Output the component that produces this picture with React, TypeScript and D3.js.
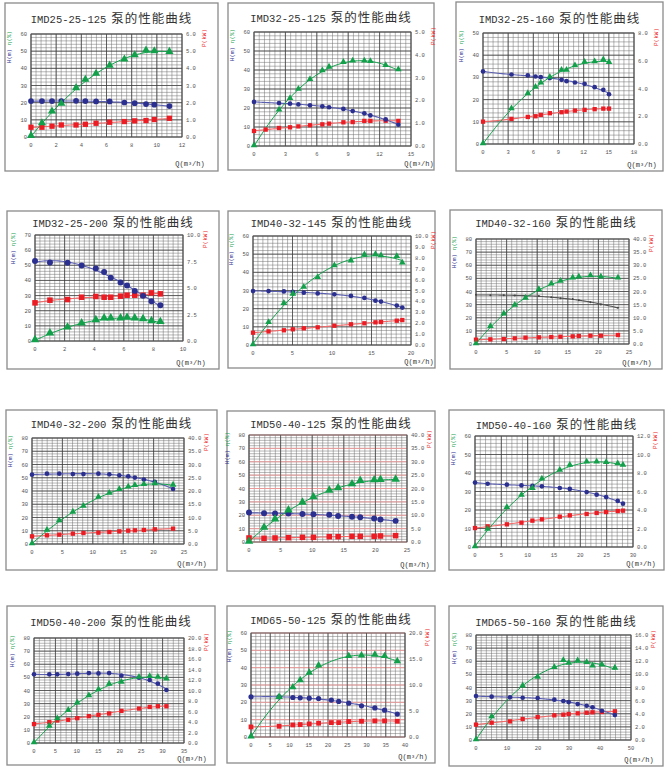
import React from "react";
import * as d3 from "d3";

// pump models shown in the grid
const titles = [
  "IMD25-25-125", "IMD32-25-125", "IMD32-25-160",
  "IMD32-25-200", "IMD40-32-145", "IMD40-32-160",
  "IMD40-32-200", "IMD50-40-125", "IMD50-40-160",
  "IMD50-40-200", "IMD65-50-125", "IMD65-50-160",
];

// Q (m³/h) of each measuring point
const flowQ: number[][] = [
  [0, 0.87, 1.67, 2.41, 3.58, 4.32, 5.17, 6.25, 7.42, 8.24, 9.14, 9.8, 11.0],
  [0, 1.11, 2.39, 3.44, 4.24, 5.35, 6.53, 7.17, 8.54, 9.43, 10.54, 11.12, 12.58, 13.79],
  [0, 3.39, 5.34, 6.26, 6.89, 7.97, 9.36, 9.96, 10.96, 12.11, 13.31, 14.34, 15.02],
  [0, 1.01, 2.2, 3.15, 4.11, 4.67, 5.12, 5.78, 6.22, 6.74, 7.3, 7.87, 8.47],
  [0, 1.97, 3.91, 5.04, 6.43, 8.19, 10.3, 12.4, 14.1, 15.5, 16.2, 18.2, 18.9],
  [0, 2.35, 4.54, 6.34, 8.09, 10.27, 12.3, 13.8, 15.8, 16.8, 18.7, 20.4, 23.2],
  [0, 2.46, 4.48, 6.72, 8.46, 10.92, 12.72, 14.36, 15.83, 16.92, 18.4, 20.2, 23.2],
  [0, 2.38, 4.12, 6.24, 8.46, 10.2, 12.7, 14.1, 16.3, 17.6, 19.8, 20.8, 23.2],
  [0, 2.4, 6.05, 8.82, 10.9, 12.7, 16.1, 18.0, 21.2, 23.1, 24.9, 27.1, 28.1],
  [0, 3.57, 5.43, 7.99, 10.09, 12.8, 15.05, 17.53, 20.4, 24.5, 27.0, 28.9, 30.9],
  [0, 7.3, 10.87, 12.78, 15.13, 17.56, 20.87, 22.78, 25.39, 28.7, 32.17, 34.7, 38.0],
  [0, 5.05, 10.97, 15.05, 19.89, 25.27, 28.17, 29.89, 32.8, 35.7, 37.6, 40.6, 44.8],
];

// H (m)
const headH: (number | null)[][] = [
  [20.9, 20.9, 20.9, 20.9, 21.1, 20.9, 20.7, 20.7, 20.1, 19.7, 19.2, 18.8, 18.0],
  [23.2, null, 22.6, 22.3, 21.9, 21.4, 20.9, 20.4, 19.5, 18.4, 17.2, 16.1, 14.0, 11.2],
  [32.7, 31.3, 30.9, 30.4, 30.1, 29.7, 28.9, 28.3, 27.7, 27.1, 25.6, 24.4, 22.4],
  [52.8, 51.9, 51.7, 49.9, 47.9, 45.5, 41.7, 38.6, 36.6, 33.1, 29.8, 26.3, 23.6],
  [29.7, 29.7, 29.5, 29.2, 28.8, 28.4, 27.9, 27.0, 25.9, 24.4, 23.9, 21.7, 20.6],
  [37.5, 37.2, 37.2, 37.0, 36.7, 36.5, 35.7, 34.9, 34.2, 33.4, 31.9, 30.1, 27.6],
  [52.3, 53.1, 53.1, 52.8, 52.8, 53.1, 52.6, 51.8, 51.1, 50.1, 48.6, 47.0, 41.5],
  [22.0, 21.5, 21.3, 21.3, 21.0, 20.8, 20.3, 19.5, 18.8, 18.5, 17.5, 16.8, 15.8],
  [34.8, 34.2, 33.7, 33.3, 33.0, 32.8, 31.9, 31.4, 29.7, 28.3, 27.0, 24.9, 23.4],
  [52.3, 52.3, 52.3, 52.5, 52.8, 53.3, 53.0, 53.3, 51.3, 49.7, 48.0, 45.2, 40.4],
  [23.2, 23.2, 22.8, 22.6, 22.4, 22.2, 21.3, 20.5, 19.5, 18.0, 16.8, 15.5, 13.2],
  [33.5, 33.0, 32.5, 32.2, 32.0, 30.7, 29.7, 28.9, 27.4, 26.1, 24.9, 22.3, 19.0],
];

// η (%)
const effEta: (number | null)[][] = [
  [0.4, 7.8, 14.7, 19.2, 28.3, 33.2, 36.7, 41.4, 45.0, 47.5, 50.2, 49.8, 49.4],
  [0, null, 18.8, 24.9, 29.8, 34.9, 39.5, 41.4, 43.9, 44.6, 44.6, 44.4, 42.3, 40.0],
  [0, 15.8, 22.6, 25.5, 27.4, 30.0, 33.1, 33.1, 35.2, 36.7, 37.0, 37.8, 36.6],
  [0.4, 4.9, 8.8, 11.5, 13.7, 14.8, 14.8, 14.8, 15.2, 14.8, 14.3, 13.0, 12.4],
  [0, 12.3, 22.8, 27.9, 31.7, 37.1, 43.5, 46.2, 49.5, 49.7, 49.0, 48.6, 45.0],
  [0, 13.2, 22.8, 29.4, 34.7, 41.3, 45.6, 47.6, 50.1, 50.9, 51.9, 50.9, 50.1],
  [0, 10.3, 17.4, 23.9, 28.4, 35.2, 38.2, 41.0, 42.8, 44.0, 44.8, 45.3, 44.3],
  [0, 10.5, 16.8, 23.5, 29.3, 33.3, 38.3, 40.0, 43.0, 45.5, 46.0, 46.3, 46.5],
  [0, 9.5, 21.3, 27.9, 31.5, 36.6, 41.4, 44.1, 45.8, 45.8, 45.6, 44.9, 44.1],
  [0, 12.6, 18.4, 24.7, 30.3, 35.9, 40.4, 44.7, 46.2, 50.0, 50.5, 50.0, 48.7],
  [0, 22.8, 28.4, 32.5, 36.8, 41.0, null, null, 46.4, 46.8, 47.2, 46.4, 43.5],
  [0, 17.5, null, 41.1, 47.7, 55.1, 60.4, 58.4, 60.2, 58.9, 56.3, 57.1, 54.6],
];

// P (kW)
const powerP: (number | null)[][] = [
  [0.57, 0.57, 0.63, 0.7, 0.7, 0.74, 0.8, 0.86, 0.9, 0.94, 0.96, 1.02, 1.09],
  [0.66, 0.72, 0.79, 0.82, 0.86, 0.91, 0.95, 0.98, 1.04, 1.05, 1.1, 1.1, 1.11, 1.1],
  [1.61, 1.81, 1.95, 2.0, 2.1, 2.22, 2.29, 2.34, 2.41, 2.46, 2.51, 2.55, 2.55],
  [3.6, 3.85, 3.91, 4.13, 4.2, 4.13, 4.13, 4.23, 4.32, 4.32, 4.32, 4.54, 4.45],
  [1.13, 1.25, 1.35, 1.44, 1.53, 1.62, 1.77, 1.9, 1.99, 2.08, 2.11, 2.23, 2.29],
  [1.65, 1.77, 1.9, 2.15, 2.41, 2.53, 2.66, 2.78, 2.91, 3.04, 3.16, 3.16, 3.42],
  [2.89, 3.27, 3.52, 3.9, 4.15, 4.28, 4.53, 4.78, 5.03, 5.16, 5.28, 5.53, 5.79],
  [1.5, 1.38, 1.5, 1.63, 1.75, 1.75, 2.0, 2.0, 2.13, 2.13, 2.13, 2.25, 2.38],
  [2.05, 2.23, 2.45, 2.63, 2.85, 2.99, 3.28, 3.42, 3.57, 3.68, 3.78, 3.89, 3.93],
  [3.6, 3.97, 4.29, 4.42, 4.73, 5.11, 5.36, 5.62, 6.12, 6.56, 6.88, 7.0, 7.0],
  [1.94, 2.06, 2.32, 2.39, 2.52, 2.65, 2.77, 2.77, 2.97, 3.03, 3.1, 3.1, 3.03],
  [2.34, 2.64, 2.84, 3.2, 3.5, 3.76, 3.86, 3.96, 4.06, 4.16, 4.22, 4.27, 4.37],
];

// axis ranges
const xMaxes = [12, 15, 18, 10, 20, 25, 25, 25, 30, 35, 40, 50];
const xSteps = [2, 3, 3, 2, 5, 5, 5, 5, 5, 5, 5, 10];
const hMaxes = [60, 60, 50, 70, 60, 80, 80, 80, 60, 80, 60, 80];
const pMaxes = [6, 5, 8, 10, 10, 40, 40, 40, 12, 20, 20, 16];
const pSteps = [1, 1, 2, 2.5, 1, 5, 5, 5, 2, 2, 5, 2];

// panel box [x, y, w, h] and plot area [left, right, top, bottom], title baseline
const layouts = [
  [5, 3, 213, 168, 31, 182, 34, 137, 23],
  [228, 3, 206, 167, 254, 411, 32, 146, 22],
  [456, 2, 207, 169, 483, 634, 33, 144, 23],
  [7, 211, 212, 158, 35, 183, 235, 341, 227],
  [228, 211, 207, 157, 253, 411, 236, 345, 227],
  [450, 210, 212, 159, 476, 629, 239, 344, 227],
  [6, 410, 211, 160, 32, 184, 438, 544, 428],
  [227, 411, 208, 160, 249, 407, 435, 542, 428],
  [449, 410, 215, 160, 475, 633, 436, 547, 429],
  [7, 606, 208, 159, 34, 184, 638, 743, 626],
  [227, 606, 208, 157, 251, 405, 633, 737, 624],
  [449, 606, 214, 160, 476, 631, 635, 740, 626],
];
const markerScale = [1.1, 0.9, 0.9, 1.15, 0.9, 0.9, 0.9, 1.15, 0.9, 0.9, 1.0, 0.9];

const BLUE = "#2b2f8f";
const GREEN = "#12a04b";
const RED = "#ec1c24";
const MONO = "'Liberation Mono', 'DejaVu Sans Mono', monospace";
const CJK = "'Noto Sans CJK SC', sans-serif";

// least squares polynomial, used for the smooth trend line
function polyFit(xs: number[], ys: number[], deg: number, scale: number) {
  const n = deg + 1;
  const A = d3.range(n).map(() => new Array(n + 1).fill(0));
  xs.forEach((x0, k) => {
    const x = x0 / scale;
    for (let i = 0; i < n; i++) {
      for (let j = 0; j < n; j++) A[i][j] += Math.pow(x, i + j);
      A[i][n] += ys[k] * Math.pow(x, i);
    }
  });
  for (let c = 0; c < n; c++) {
    let piv = c;
    for (let r = c + 1; r < n; r++) if (Math.abs(A[r][c]) > Math.abs(A[piv][c])) piv = r;
    [A[c], A[piv]] = [A[piv], A[c]];
    for (let r = 0; r < n; r++) {
      if (r === c) continue;
      const f = A[r][c] / A[c][c];
      for (let k = c; k <= n; k++) A[r][k] -= f * A[c][k];
    }
  }
  const coef = d3.range(n).map((i) => A[i][n] / A[i][i]);
  return (x0: number) => {
    const x = x0 / scale;
    return coef.reduce((s, c, i) => s + c * Math.pow(x, i), 0);
  };
}

const Panel: React.FC<{ i: number }> = ({ i }) => {
  const [bx, by, bw, bh, left, right, top, bottom, titleY] = layouts[i];
  const xMax = xMaxes[i];
  const x = d3.scaleLinear().domain([0, xMax]).range([left, right]);
  const yH = d3.scaleLinear().domain([0, hMaxes[i]]).range([bottom, top]);
  const yP = d3.scaleLinear().domain([0, pMaxes[i]]).range([bottom, top]);
  const ms = markerScale[i];

  const xTicks = d3.range(0, xMax + 1e-9, xSteps[i]);
  const hTicks = d3.range(0, hMaxes[i] + 1e-9, 10);
  const pTicks = d3.range(0, pMaxes[i] + 1e-9, pSteps[i]);

  const majorPx = ((right - left) * xSteps[i]) / xMax;
  const xSubs = Math.max(2, Math.round(majorPx / 5));
  const xMinor = d3.range(0, xMax + 1e-9, xSteps[i] / xSubs);
  const hMinor = d3.range(0, hMaxes[i] + 1e-9, 2);
  const pinkMajor = i === 7 || i === 10;

  const series = (vals: (number | null)[], y: d3.ScaleLinear<number, number>) => {
    const pts = flowQ[i]
      .map((q, k) => [q, vals[k]] as [number, number | null])
      .filter((d) => d[1] !== null) as [number, number][];
    const f = polyFit(pts.map((d) => d[0]), pts.map((d) => d[1]), 3, xMax);
    const q0 = d3.min(pts, (d) => d[0])!;
    const q1 = d3.max(pts, (d) => d[0])!;
    const samples = d3.range(0, 61).map((k) => q0 + ((q1 - q0) * k) / 60);
    const line = d3
      .line<number>()
      .x((q) => x(q))
      .y((q) => y(f(q)))
      .curve(d3.curveMonotoneX);
    return { pts, path: line(samples) || "" };
  };

  const hS = series(headH[i], yH);
  const eS = series(effEta[i], yH);
  const pS = series(powerP[i], yP);
  const hColor = i === 5 ? "#444" : BLUE;
  const tri = d3.symbol(d3.symbolTriangle, 24 * ms * ms)() || "";
  const qLabelY = Math.min(bottom + 29, by + bh - 4);

  return (
    <g>
      <rect x={bx} y={by} width={bw} height={bh} fill="#fff" stroke="#8a8a8a" strokeWidth={1.3} />
      <text x={bx + bw / 2} y={titleY} textAnchor="middle" fill="#333">
        <tspan fontFamily={MONO} fontSize={10.5}>{titles[i]}</tspan>
        <tspan fontFamily={CJK} fontSize={12.5} dx={5} letterSpacing={1}>泵的性能曲线</tspan>
      </text>

      {/* grid */}
      {xMinor.map((v, k) => (
        <line key={"vx" + k} x1={x(v)} x2={x(v)} y1={top} y2={bottom} stroke="#6f6f6f" strokeWidth={0.5} />
      ))}
      {hMinor.map((v, k) => (
        <line key={"hy" + k} x1={left} x2={right} y1={yH(v)} y2={yH(v)} stroke="#6f6f6f" strokeWidth={0.5} />
      ))}
      {hTicks.map((v, k) => (
        <line key={"hM" + k} x1={left} x2={right} y1={yH(v)} y2={yH(v)}
          stroke={pinkMajor ? "#eb9a9a" : "#3a3a3a"} strokeWidth={pinkMajor ? 1 : 0.7} />
      ))}
      {xTicks.map((v, k) => (
        <line key={"vM" + k} x1={x(v)} x2={x(v)} y1={top} y2={bottom} stroke="#3a3a3a" strokeWidth={0.7} />
      ))}
      <rect x={left} y={top} width={right - left} height={bottom - top} fill="none" stroke="#555" strokeWidth={0.8} />

      {/* tick labels */}
      {hTicks.map((v, k) => (
        <text key={"lh" + k} x={left - 4} y={yH(v) + 2} textAnchor="end" fontFamily={MONO} fontSize={5.5} fill="#555">
          {v}
        </text>
      ))}
      {pTicks.map((v, k) => (
        <text key={"lp" + k} x={right + 4} y={yP(v) + 2} textAnchor="start" fontFamily={MONO} fontSize={5.5} fill="#555">
          {v.toFixed(1)}
        </text>
      ))}
      {xTicks.map((v, k) => (
        <text key={"lx" + k} x={x(v)} y={bottom + 9.5} textAnchor="middle" fontFamily={MONO} fontSize={5.5} fill="#555">
          {v}
        </text>
      ))}

      {/* axis titles */}
      <text transform={`translate(${left - 20},${top + 22}) rotate(-90)`} textAnchor="middle"
        fontFamily={MONO} fontSize={6} fill={BLUE}>H(m)</text>
      <text transform={`translate(${left - 20},${top + 4}) rotate(-90)`} textAnchor="middle"
        fontFamily={MONO} fontSize={6} fill={GREEN}>η(%)</text>
      <text transform={`translate(${right + 24},${top + 4}) rotate(-90)`} textAnchor="middle"
        fontFamily={MONO} fontSize={6} fill={RED}>P(kW)</text>
      <text x={right + 8} y={qLabelY} textAnchor="middle" fontFamily={MONO} fontSize={7} fill="#333">
        Q(m³/h)
      </text>

      {/* curves */}
      <path d={pS.path} fill="none" stroke="#f06a6a" strokeWidth={1.1} />
      <path d={hS.path} fill="none" stroke={i === 5 ? "#555" : "#5b5fb0"} strokeWidth={1.1} />
      <path d={eS.path} fill="none" stroke={GREEN} strokeWidth={1} />

      {pS.pts.map((d, k) => (
        <rect key={"mp" + k} x={x(d[0]) - 2.4 * ms} y={yP(d[1]) - 2.4 * ms} width={4.8 * ms} height={4.8 * ms} fill={RED} />
      ))}
      {hS.pts.map((d, k) => (
        <circle key={"mh" + k} cx={x(d[0])} cy={yH(d[1])} r={i === 5 ? 1 : 2.6 * ms} fill={hColor} />
      ))}
      {eS.pts.map((d, k) => (
        <path key={"me" + k} d={tri} transform={`translate(${x(d[0])},${yH(d[1]) - 0.6})`} fill={GREEN} />
      ))}
    </g>
  );
};

export default function App() {
  return (
    <svg width={667} height={770} style={{ position: "absolute", left: 0, top: 0, background: "#fff" }}>
      <rect width={667} height={770} fill="#fff" />
      {titles.map((_, i) => (
        <Panel key={i} i={i} />
      ))}
    </svg>
  );
}
